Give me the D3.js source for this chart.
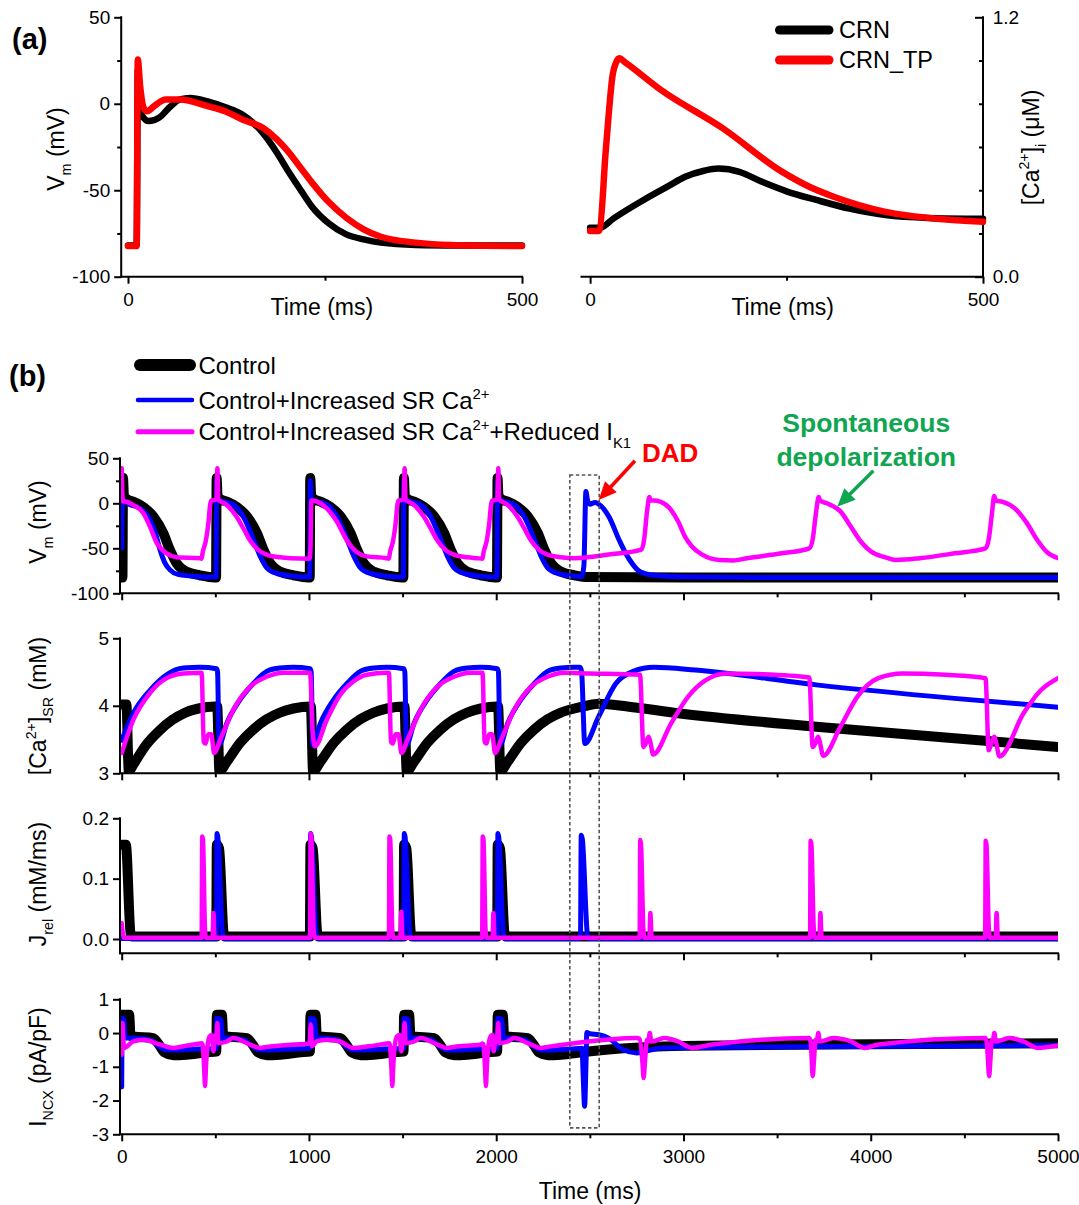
<!DOCTYPE html>
<html><head><meta charset="utf-8">
<script src="https://cdn.jsdelivr.net/npm/d3@7"></script>
<style>
body{margin:0;background:#fff}
svg{display:block}
text{font-family:"Liberation Sans",Arial,Helvetica,sans-serif;fill:#000}
</style>
</head><body>
<svg id="chart" width="1079" height="1205"></svg>
<script>
// ================= DATA =================
// Panel (a) left: membrane potential (mV) vs time (ms)
const crnVm = [[0,-82],[11,-82],[12.5,20],[15,0],[17.7,-6.8],[26.4,-10],[39.6,-8],[52.8,-2],[66,2.5],[79,3.4],[101,1.4],[123,-1.9],[145,-6.2],[171,-16.8],[189,-28.3],[202,-38],[220,-50.5],[233,-59.2],[255,-69.2],[277,-75.5],[299,-78.4],[321,-80.3],[365,-81.6],[420,-81.9],[500,-82]];
const crnTpVm = [[0,-82.3],[11,-82.3],[12.4,25.6],[15.4,10.2],[19.8,-2.3],[24.2,-4.3],[33,-1.4],[48,2.5],[66,2.5],[101,-1.4],[123,-4.3],[145,-9.1],[171,-13.9],[189,-20.6],[202,-27],[220,-37.6],[233,-45.3],[255,-57],[277,-65.9],[299,-72.6],[321,-76.9],[365,-80.3],[409,-81.7],[500,-82.3]];
// Panel (a) right: [Ca2+]i (uM)
const crnCa = [[0,0.227],[13,0.227],[30,0.27],[68,0.355],[100,0.42],[121,0.462],[145,0.49],[163,0.5],[190,0.485],[218,0.44],[250,0.395],[288,0.355],[330,0.315],[376,0.285],[430,0.272],[500,0.268]];
const crnTpCa = [[0,0.211],[10,0.211],[12,0.215],[20,0.586],[29,0.94],[33,0.99],[37,1.01],[45,0.99],[90,0.864],[169,0.686],[244,0.486],[279,0.416],[310,0.37],[376,0.30],[442,0.268],[500,0.254]];

// Panel (b): Vm (mV)
const ctrlVm = [[0,-82.5],[4,-82.5],[7,28],[12,8],[25,5],[60,2],[115,-4],[170,-15],[222,-33],[258,-52],[294,-67],[347,-76],[418,-80],[495,-82.5],
[504,-82.5],[507,28],[512,8],[525,5],[560,2],[615,-4],[670,-15],[722,-33],[758,-52],[794,-67],[847,-76],[918,-80],[995,-82.5],
[1004,-82.5],[1007,28],[1012,8],[1025,5],[1060,2],[1115,-4],[1170,-15],[1222,-33],[1258,-52],[1294,-67],[1347,-76],[1418,-80],[1495,-82.5],
[1504,-82.5],[1507,28],[1512,8],[1525,5],[1560,2],[1615,-4],[1670,-15],[1722,-33],[1758,-52],[1794,-67],[1847,-76],[1918,-80],[1995,-82.5],
[2004,-82.5],[2007,28],[2012,8],[2025,5],[2060,2],[2115,-4],[2170,-15],[2222,-33],[2258,-52],[2294,-67],[2347,-76],[2418,-80],[2495,-82],[3000,-82.5],[5000,-82.5]];
const srVm = [[0,-50],[3,-2],[10,3],[40,-1],[100,-6],[151,-18],[180,-33],[205,-52],[230,-66],[258,-74],[300,-79],[418,-81.5],[495,-82],
[504,-82],[507,25],[512,4],[530,3],[560,1],[600,-2],[650,-15],[705,-41],[740,-59],[776,-72],[829,-78],[918,-81],[995,-82],
[1004,-82],[1007,25],[1012,4],[1030,3],[1060,1],[1100,-2],[1150,-15],[1205,-41],[1240,-59],[1276,-72],[1329,-78],[1418,-81],[1495,-82],
[1504,-82],[1507,25],[1512,4],[1530,3],[1560,1],[1600,-2],[1650,-15],[1705,-41],[1740,-59],[1776,-72],[1829,-78],[1918,-81],[1995,-82],
[2004,-82],[2007,25],[2012,4],[2030,3],[2060,1],[2100,-2],[2150,-15],[2205,-41],[2240,-59],[2276,-72],[2329,-78],[2418,-81],[2455,-81.5],[2468,-70],[2479,13],[2487,4],[2500,-1],[2528,1],[2560,-3],[2602,-15],[2657,-41],[2690,-55],[2713,-63],[2768,-76],[2842,-80],[2971,-81.5],[3500,-82.5],[5000,-82.5]];
const ik1Vm = [[0,39],[6,2],[18,2],[62,-2],[116,-11],[151,-26],[187,-44],[240,-55.6],[294,-60],[418,-61],
[427,-61.5],[432,-55],[450,-41],[463,-22],[472,-2],[478,3],[500,4],[506,5],[511,39],[516,4],[530,2],[561,-2],[614,-15],[650,-28],[685,-41],[730,-52],[774,-57],[845,-60],[900,-61],[1003,-61.5],
[1008,-50],[1013,3],[1041,2],[1095,-5.6],[1148,-20],[1202,-41],[1255,-54],[1308,-59],[1415,-61],[1427,-61.5],
[1432,-55],[1450,-41],[1463,-22],[1472,-2],[1478,3],[1500,4],[1506,5],[1511,39],[1516,4],[1530,2],[1561,-2],[1614,-15],[1650,-28],[1685,-41],[1730,-52],[1774,-57],[1845,-60],[1900,-61],[1927,-61.5],
[1932,-55],[1950,-41],[1963,-22],[1972,-2],[1978,3],[2000,4],[2006,5],[2011,39],[2016,4],[2030,2],[2061,-2],[2114,-15],[2150,-28],[2185,-41],[2230,-52],[2274,-57],[2345,-60],[2420,-61],
[2600,-57],[2775,-51.5],[2790,-40],[2805,-10],[2818,7],[2825,3],[2840,3],[2879,1.5],[2934,-7.5],[2971,-20],[3008,-37],[3045,-48],[3100,-57],[3192,-63],[3266,-63.5],[3340,-61],[3525,-55.6],[3672,-50],
[3690,-40],[3708,-10],[3722,7],[3730,3],[3765,0],[3838,-9],[3894,-26],[3949,-43],[4004,-54],[4078,-60],[4133,-63],[4262,-61],[4447,-55.6],[4613,-50],
[4630,-40],[4648,-10],[4659,8],[4668,3],[4705,1.5],[4779,-7.5],[4834,-22],[4890,-41],[4945,-55],[5000,-61]];

// Panel (b): [Ca2+]SR (mM)
const ctrlSR = [[0,4.02],[25,4.02],[38,3.03],[60,3.12],[130,3.42],[200,3.63],[270,3.79],[340,3.9],[410,3.96],[500,3.99],
[510,3.99],[522,3.03],[561,3.17],[632,3.45],[703,3.65],[774,3.8],[845,3.9],[917,3.96],[1005,3.99],
[1010,3.99],[1022,3.03],[1061,3.17],[1132,3.45],[1203,3.65],[1274,3.8],[1345,3.9],[1417,3.96],[1505,3.99],
[1510,3.99],[1522,3.03],[1561,3.17],[1632,3.45],[1703,3.65],[1774,3.8],[1845,3.9],[1917,3.96],[2005,3.99],
[2010,3.99],[2022,3.03],[2061,3.17],[2132,3.45],[2203,3.65],[2274,3.8],[2345,3.9],[2417,3.96],[2480,4.0],[2547,4.03],[2700,3.99],[2971,3.89],[3709,3.69],[4447,3.52],[5000,3.39]];
const srSR = [[0,3.49],[62,3.89],[151,4.23],[240,4.46],[329,4.56],[418,4.57],[507,4.55],
[512,4.5],[520,3.42],[561,3.74],[632,4.09],[703,4.33],[774,4.51],[845,4.56],[917,4.57],[1006,4.55],
[1012,4.5],[1020,3.42],[1061,3.74],[1132,4.09],[1203,4.33],[1274,4.51],[1345,4.56],[1417,4.57],[1506,4.55],
[1512,4.5],[1520,3.42],[1561,3.74],[1632,4.09],[1703,4.33],[1774,4.51],[1845,4.56],[1917,4.57],[2006,4.55],
[2012,4.5],[2020,3.42],[2061,3.74],[2132,4.09],[2203,4.33],[2274,4.51],[2345,4.56],[2417,4.57],[2448,4.57],[2456,4.5],[2473,3.44],[2547,3.84],[2639,4.33],[2731,4.51],[2842,4.57],[3063,4.53],[3709,4.31],[4447,4.11],[5000,3.98]];
const ik1SR = [[0,3.30],[62,3.79],[151,4.19],[240,4.41],[329,4.48],[427,4.49],[438,3.47],[448,3.44],[462,3.58],[478,3.58],[494,3.30],[525,3.49],[596,3.94],[685,4.28],[774,4.43],[863,4.49],[1006,4.49],
[1020,3.6],[1032,3.40],[1095,3.79],[1166,4.16],[1237,4.36],[1308,4.46],[1415,4.49],
[1427,4.49],[1438,3.47],[1448,3.44],[1462,3.58],[1478,3.58],[1494,3.30],[1525,3.49],[1596,3.94],[1685,4.28],[1774,4.43],[1863,4.49],[1927,4.49],
[1938,3.47],[1948,3.44],[1962,3.58],[1978,3.58],[1994,3.30],[2025,3.49],[2096,3.94],[2185,4.28],[2274,4.43],[2363,4.49],[2500,4.48],[2768,4.46],[2786,3.39],[2800,3.45],[2814,3.54],[2824,3.45],[2838,3.28],[2934,3.74],[3026,4.14],[3119,4.38],[3230,4.48],[3400,4.47],[3672,4.42],[3690,3.39],[3705,3.45],[3719,3.54],[3729,3.45],[3746,3.26],[3838,3.69],[3930,4.14],[4041,4.41],[4170,4.48],[4400,4.46],[4613,4.41],[4630,3.34],[4645,3.45],[4660,3.54],[4670,3.45],[4687,3.25],[4816,3.89],[4908,4.23],[5000,4.41]];

// Panel (b): Jrel (mM/ms)
const ctrlJ = [[0,0.156],[22,0.156],[48,0.008],[58,0.004],
[505,0.004],[508,0.156],[520,0.15],[545,0.008],[552,0.004],
[1005,0.004],[1008,0.156],[1020,0.15],[1045,0.008],[1052,0.004],
[1505,0.004],[1508,0.156],[1520,0.15],[1545,0.008],[1552,0.004],
[2005,0.004],[2008,0.156],[2020,0.15],[2045,0.008],[2052,0.004],[5000,0.004]];
const srJ = [[0,0.001],[506,0.001],[509,0.175],[513,0.17],[538,0.01],[545,0.001],
[1006,0.001],[1009,0.175],[1013,0.17],[1038,0.01],[1045,0.001],
[1506,0.001],[1509,0.175],[1513,0.17],[1538,0.01],[1545,0.001],
[2006,0.001],[2009,0.175],[2013,0.17],[2038,0.01],[2045,0.001],
[2450,0.001],[2454,0.172],[2460,0.165],[2486,0.01],[2492,0.001],[5000,0.001]];
const ik1J = [[0,0.026],[12,0.002],[427,0.002],[430,0.17],[434,0.165],[445,0.015],[450,0.002],[485,0.002],[490,0.043],[496,0.002],
[1006,0.002],[1009,0.175],[1013,0.168],[1026,0.01],[1032,0.002],
[1427,0.002],[1430,0.17],[1434,0.165],[1445,0.015],[1450,0.002],[1488,0.002],[1493,0.045],[1499,0.002],
[1925,0.002],[1928,0.17],[1932,0.165],[1943,0.015],[1948,0.002],[1980,0.002],[1985,0.043],[1991,0.002],
[2766,0.002],[2769,0.164],[2773,0.158],[2786,0.015],[2792,0.002],[2818,0.002],[2823,0.043],[2830,0.002],
[3676,0.002],[3679,0.163],[3683,0.157],[3696,0.015],[3702,0.002],[3726,0.002],[3731,0.043],[3738,0.002],
[4611,0.002],[4614,0.163],[4618,0.157],[4631,0.015],[4637,0.002],[4667,0.002],[4672,0.043],[4679,0.002],[5000,0.002]];

// Panel (b): INCX (pA/pF)
const ctrlN = [[0,0.54],[40,0.54],[47,-0.08],[62,-0.1],[169,-0.15],[200,-0.35],[230,-0.58],[276,-0.66],[347,-0.64],[454,-0.57],[505,-0.55],
[508,0.54],[535,0.54],[542,-0.08],[562,-0.1],[669,-0.15],[700,-0.35],[730,-0.58],[776,-0.66],[847,-0.64],[954,-0.57],[1005,-0.55],
[1008,0.54],[1035,0.54],[1042,-0.08],[1062,-0.1],[1169,-0.15],[1200,-0.35],[1230,-0.58],[1276,-0.66],[1347,-0.64],[1454,-0.57],[1505,-0.55],
[1508,0.54],[1535,0.54],[1542,-0.08],[1562,-0.1],[1669,-0.15],[1700,-0.35],[1730,-0.58],[1776,-0.66],[1847,-0.64],[1954,-0.57],[2005,-0.55],
[2008,0.54],[2035,0.54],[2042,-0.08],[2062,-0.1],[2169,-0.15],[2200,-0.35],[2230,-0.58],[2276,-0.66],[2347,-0.64],[2454,-0.57],[2600,-0.49],[3000,-0.38],[4000,-0.33],[5000,-0.3]];
const srN = [[0,-1.6],[3,0.44],[12,0.4],[18,-0.15],[62,-0.15],[150,-0.2],[200,-0.4],[240,-0.5],[300,-0.5],[400,-0.47],[505,-0.45],
[508,0.44],[530,0.4],[538,-0.15],[562,-0.15],[650,-0.2],[700,-0.4],[740,-0.5],[800,-0.5],[900,-0.47],[1005,-0.45],
[1008,0.44],[1030,0.4],[1038,-0.15],[1062,-0.15],[1150,-0.2],[1200,-0.4],[1240,-0.5],[1300,-0.5],[1400,-0.47],[1505,-0.45],
[1508,0.44],[1530,0.4],[1538,-0.15],[1562,-0.15],[1650,-0.2],[1700,-0.4],[1740,-0.5],[1800,-0.5],[1900,-0.47],[2005,-0.45],
[2008,0.44],[2030,0.4],[2038,-0.15],[2062,-0.15],[2150,-0.2],[2200,-0.4],[2240,-0.5],[2300,-0.5],[2400,-0.47],[2458,-0.45],[2464,-1.2],[2472,-2.17],[2479,-1.0],[2484,0.02],[2500,-0.02],[2547,-0.05],[2600,-0.15],[2676,-0.49],[2750,-0.59],[2879,-0.44],[3200,-0.42],[5000,-0.36]];
const ik1N = [[0,-0.64],[4,0.3],[12,-0.44],[62,-0.25],[116,-0.2],[205,-0.34],[276,-0.44],[350,-0.37],[418,-0.31],[427,-0.3],
[432,-0.35],[440,-1.0],[445,-1.57],[450,-1.0],[458,-0.4],[470,-0.1],[481,-0.06],[490,-0.54],[496,-0.2],[502,-0.05],[507,-0.1],[511,0.3],[516,-0.3],[561,-0.25],[596,-0.15],[685,-0.34],[740,-0.44],[774,-0.41],[917,-0.34],[1003,-0.31],
[1010,0.25],[1016,-0.39],[1041,-0.25],[1095,-0.2],[1166,-0.25],[1237,-0.44],[1308,-0.4],[1415,-0.31],[1427,-0.3],
[1432,-0.35],[1440,-1.0],[1445,-1.57],[1450,-1.0],[1458,-0.4],[1470,-0.1],[1485,-0.06],[1493,-0.54],[1500,-0.2],[1506,-0.05],[1511,0.3],[1516,-0.3],[1561,-0.25],[1596,-0.15],[1685,-0.34],[1740,-0.44],[1774,-0.41],[1917,-0.34],[1927,-0.31],
[1932,-0.35],[1940,-1.0],[1945,-1.57],[1950,-1.0],[1958,-0.4],[1970,-0.1],[1980,-0.06],[1986,-0.54],[1995,-0.2],[2006,-0.05],[2011,0.3],[2016,-0.3],[2061,-0.25],[2096,-0.15],[2185,-0.34],[2240,-0.44],[2274,-0.41],[2418,-0.3],
[2750,-0.15],[2766,-0.18],[2780,-0.8],[2787,-1.33],[2795,-0.8],[2805,-0.2],[2812,-0.25],[2820,0.0],[2828,-0.25],[2897,-0.15],[2971,-0.25],[3045,-0.44],[3155,-0.34],[3672,-0.15],
[3680,-0.3],[3685,-0.8],[3690,-1.28],[3697,-0.8],[3705,-0.2],[3712,-0.25],[3720,0.0],[3728,-0.25],[3800,-0.15],[3894,-0.25],[3967,-0.44],[4041,-0.34],[4613,-0.15],
[4620,-0.3],[4626,-0.8],[4632,-1.28],[4639,-0.8],[4646,-0.2],[4652,-0.25],[4660,0.0],[4668,-0.25],[4740,-0.15],[4816,-0.25],[4890,-0.44],[5000,-0.37]];

// tick values / labels
const aVmTicks = [50,0,-50,-100], aVmMinor = [25,-25,-75];
const aTimeTicks = [0,500], aTimeMinor = [250];
const aCaTicks = [0,1.2], aCaLabels = ["0.0","1.2"], aCaMinor = [0.2,0.4,0.6,0.8,1.0];
const bTimeTicks = [0,1000,2000,3000,4000,5000], bTimeMinor = [500,1500,2500,3500,4500];
const bVmTicks = [50,0,-50,-100], bVmMinor = [25,-25,-75];
const bSRTicks = [5,4,3];
const bJTicks = [0.2,0.1,0.0], bJLabels = ["0.2","0.1","0.0"];
const bNTicks = [1,0,-1,-2,-3];
const legendA = ["CRN","CRN_TP"];
const colA = ["#000000","#ff0000"];
const colB = ["#000000","#0000ff","#ff00ff"];
const widB = [10,5,4.5];

// ================= DRAW =================
const svg = d3.select('#chart');
const TICKFS = 19, LABFS = 23;

const axL = d3.scaleLinear().domain([0,500]).range([128,522]);
const ayL = d3.scaleLinear().domain([-100,50]).range([276.7,17.3]);
const axR = d3.scaleLinear().domain([0,500]).range([590.1,983]);
const ayR = d3.scaleLinear().domain([0,1.2]).range([276.7,17.3]);
const bx = d3.scaleLinear().domain([0,5000]).range([121.7,1058]);
const byVm = d3.scaleLinear().domain([-100,50]).range([593.3,458.3]);
const bySR = d3.scaleLinear().domain([3,5]).range([773.3,638.3]);
const byJ = d3.scaleLinear().domain([-0.0237,0.2]).range([953.3,818.3]);
const byN = d3.scaleLinear().domain([-3,1]).range([1134.3,999.3]);

function styleAxis(g){
  g.attr('font-size',TICKFS).attr('font-family','"Liberation Sans",Arial,sans-serif');
  g.select('.domain').remove();
  g.selectAll('.tick line').attr('stroke','#000').attr('stroke-width',2);
  g.selectAll('.tick text').attr('fill','#000');
}
function hline(x1,x2,y){svg.append('line').attr('x1',x1).attr('x2',x2).attr('y1',y).attr('y2',y).attr('stroke','#000').attr('stroke-width',2).attr('stroke-linecap','square');}
function vline(x,y1,y2){svg.append('line').attr('x1',x).attr('x2',x).attr('y1',y1).attr('y2',y2).attr('stroke','#000').attr('stroke-width',2).attr('stroke-linecap','square');}

function leftAxis(x0, ys, ticks, labels, minor){
  const g = svg.append('g').attr('transform',`translate(${x0},0)`)
    .call(d3.axisLeft(ys).tickValues(ticks).tickFormat((d,i)=>labels?labels[i]:String(d)).tickSize(7).tickPadding(4).tickSizeOuter(0));
  styleAxis(g);
  if(minor){ const m = svg.append('g').attr('transform',`translate(${x0},0)`)
    .call(d3.axisLeft(ys).tickValues(minor).tickFormat('').tickSize(4).tickSizeOuter(0)); styleAxis(m); }
  const r = ys.range(); vline(x0, Math.min(...r), Math.max(...r));
}
function bottomAxis(y0, xs, ticks, labels, minor, xStart, xEnd){
  const g = svg.append('g').attr('transform',`translate(0,${y0})`)
    .call(d3.axisBottom(xs).tickValues(ticks).tickFormat((d,i)=>labels?labels[i]:'').tickSize(7).tickPadding(8.5).tickSizeOuter(0));
  styleAxis(g);
  if(minor){ const m = svg.append('g').attr('transform',`translate(0,${y0})`)
    .call(d3.axisBottom(xs).tickValues(minor).tickFormat('').tickSize(4).tickSizeOuter(0)); styleAxis(m); }
  hline(xStart, xEnd, y0);
}
function rich(g, parts, size){
  const t = g.append('text').attr('font-size',size);
  let cur = 0;
  parts.forEach(p=>{
    const shift = p.sup ? -0.42*size : (p.sub ? 0.32*size : 0);
    const ts = t.append('tspan').text(p.t).attr('dy', shift-cur);
    if(p.sup||p.sub) ts.attr('font-size', size*0.62);
    cur = shift;
  });
  return t;
}
function rotLabel(x,y,parts,size){
  const g = svg.append('g').attr('transform',`translate(${x},${y}) rotate(-90)`);
  rich(g,parts,size).attr('text-anchor','middle');
}
function drawLine(g, data, xs, ys, color, w){
  g.append('path').datum(data)
   .attr('d', d3.line().curve(d3.curveMonotoneX).x(d=>xs(d[0])).y(d=>ys(d[1])))
   .attr('fill','none').attr('stroke',color).attr('stroke-width',w)
   .attr('stroke-linejoin','round').attr('stroke-linecap','round');
}
function arrow(x1,y1,x2,y2,color){
  const a = Math.atan2(y2-y1,x2-x1), L=18, W=8;
  const bxp = x2-L*Math.cos(a), byp = y2-L*Math.sin(a);
  svg.append('line').attr('x1',x1).attr('y1',y1).attr('x2',bxp+2*Math.cos(a)).attr('y2',byp+2*Math.sin(a))
    .attr('stroke',color).attr('stroke-width',3.5);
  svg.append('polygon').attr('fill',color).attr('points',
    [[x2,y2],[bxp+W*Math.sin(a), byp-W*Math.cos(a)],[bxp-W*Math.sin(a), byp+W*Math.cos(a)]].map(p=>p.join(',')).join(' '));
}

// ---- Panel (a) ----
svg.append('text').attr('x',12).attr('y',49).attr('font-size',29).attr('font-weight','bold').text('(a)');
leftAxis(121.2, ayL, aVmTicks, null, aVmMinor);
bottomAxis(276.7, axL, aTimeTicks, ["0","500"], aTimeMinor, 121.2, 522);
const gA1 = svg.append('g');
drawLine(gA1, crnVm, axL, ayL, colA[0], 6.5);
drawLine(gA1, crnTpVm, axL, ayL, colA[1], 6.5);
svg.append('text').attr('x',321.8).attr('y',315).attr('font-size',LABFS).attr('text-anchor','middle').text('Time (ms)');
rotLabel(64,149,[{t:'V'},{t:'m',sub:true},{t:' (mV)'}],LABFS);

// right panel
bottomAxis(276.7, axR, aTimeTicks, ["0","500"], aTimeMinor, 581.5, 983);
{
  const g = svg.append('g').attr('transform','translate(983,0)')
    .call(d3.axisRight(ayR).tickValues(aCaTicks).tickFormat((d,i)=>aCaLabels[i]).tickSize(-8).tickPadding(9.7).tickSizeOuter(0));
  styleAxis(g);
  const m = svg.append('g').attr('transform','translate(983,0)')
    .call(d3.axisRight(ayR).tickValues(aCaMinor).tickFormat('').tickSize(-4).tickSizeOuter(0));
  styleAxis(m);
  vline(983, 17.3, 276.7);
}
const gA2 = svg.append('g');
drawLine(gA2, crnCa, axR, ayR, colA[0], 6.5);
drawLine(gA2, crnTpCa, axR, ayR, colA[1], 6.5);
svg.append('text').attr('x',782.7).attr('y',315).attr('font-size',LABFS).attr('text-anchor','middle').text('Time (ms)');
rotLabel(1039,147.5,[{t:'[Ca'},{t:'2+',sup:true},{t:']'},{t:'i',sub:true},{t:' (\u03bcM)'}],LABFS);
// legend (a)
legendA.forEach((name,i)=>{
  const y = 30 + i*30;
  svg.append('line').attr('x1',779.5).attr('x2',829).attr('y1',y).attr('y2',y)
    .attr('stroke',colA[i]).attr('stroke-width',9).attr('stroke-linecap','round');
  svg.append('text').attr('x',839).attr('y',y+8.3).attr('font-size',23.5).text(name);
});

// ---- Panel (b) ----
svg.append('text').attr('x',9).attr('y',386).attr('font-size',29).attr('font-weight','bold').text('(b)');
const legB = [
  [{t:'Control'}],
  [{t:'Control+Increased SR Ca'},{t:'2+',sup:true}],
  [{t:'Control+Increased SR Ca'},{t:'2+',sup:true},{t:'+Reduced I'},{t:'K1',sub:true}]
];
const legY = [365,400,431.7], legW = [12,4.5,5];
legB.forEach((parts,i)=>{
  svg.append('line').attr('x1',i===0?140:138).attr('x2',i===0?190:192).attr('y1',legY[i]).attr('y2',legY[i])
    .attr('stroke',colB[i]).attr('stroke-width',legW[i]).attr('stroke-linecap','round');
  const g = svg.append('g').attr('transform',`translate(198.4,${legY[i]+8.6})`);
  rich(g,parts,24);
});

const panels = [
  {ys:byVm, ticks:bVmTicks, labels:null, minor:bVmMinor, data:[ctrlVm,srVm,ik1Vm], lab:[{t:'V'},{t:'m',sub:true},{t:' (mV)'}], cy:522},
  {ys:bySR, ticks:bSRTicks, labels:null, minor:null, data:[ctrlSR,srSR,ik1SR], lab:[{t:'[Ca'},{t:'2+',sup:true},{t:']'},{t:'SR',sub:true},{t:' (mM)'}], cy:706},
  {ys:byJ, ticks:bJTicks, labels:bJLabels, minor:null, data:[ctrlJ,srJ,ik1J], lab:[{t:'J'},{t:'rel',sub:true},{t:' (mM/ms)'}], cy:884},
  {ys:byN, ticks:bNTicks, labels:null, minor:null, data:[ctrlN,srN,ik1N], lab:[{t:'I'},{t:'NCX',sub:true},{t:' (pA/pF)'}], cy:1067}
];
panels.forEach((p,k)=>{
  const r = p.ys.range(), top = Math.min(...r), bot = Math.max(...r);
  const cid = 'clip'+k;
  svg.append('clipPath').attr('id',cid).append('rect').attr('x',120).attr('y',top).attr('width',1058-120).attr('height',bot-top);
  const g = svg.append('g').attr('clip-path',`url(#${cid})`);
  p.data.forEach((d,i)=>drawLine(g, d, bx, p.ys, colB[i], widB[i]));
  leftAxis(120, p.ys, p.ticks, p.labels, p.minor);
  bottomAxis(bot, bx, bTimeTicks, k===3 ? bTimeTicks.map(String) : null, bTimeMinor, 120, 1058);
  rotLabel(46, p.cy, p.lab, LABFS);
});
svg.append('text').attr('x',590).attr('y',1198.5).attr('font-size',LABFS).attr('text-anchor','middle').text('Time (ms)');

// dashed box around DAD
const boxT0 = 2393, boxT1 = 2550;
svg.append('rect').attr('x',bx(boxT0)).attr('y',byVm(31.4)).attr('width',bx(boxT1)-bx(boxT0)).attr('height',byN(-2.81)-byVm(31.4))
  .attr('fill','none').attr('stroke','#555').attr('stroke-width',1.6).attr('stroke-dasharray','3.5,2.5');

// annotations
svg.append('text').attr('x',bx(2778)).attr('y',byVm(46.4)).attr('font-size',26).attr('font-weight','bold').style('fill','#ff0000').text('DAD');
arrow(bx(2741),byVm(47.3),bx(2547),byVm(3.7),'#ff0000');
const green = '#10a550';
svg.append('text').attr('x',bx(3976)).attr('y',byVm(79.2)).attr('font-size',26.5).attr('font-weight','bold').attr('text-anchor','middle').style('fill',green).text('Spontaneous');
svg.append('text').attr('x',bx(3976)).attr('y',byVm(41.4)).attr('font-size',26.5).attr('font-weight','bold').attr('text-anchor','middle').style('fill',green).text('depolarization');
arrow(bx(4014),byVm(36.2),bx(3821),byVm(-3.8),green);
</script>
</body></html>
